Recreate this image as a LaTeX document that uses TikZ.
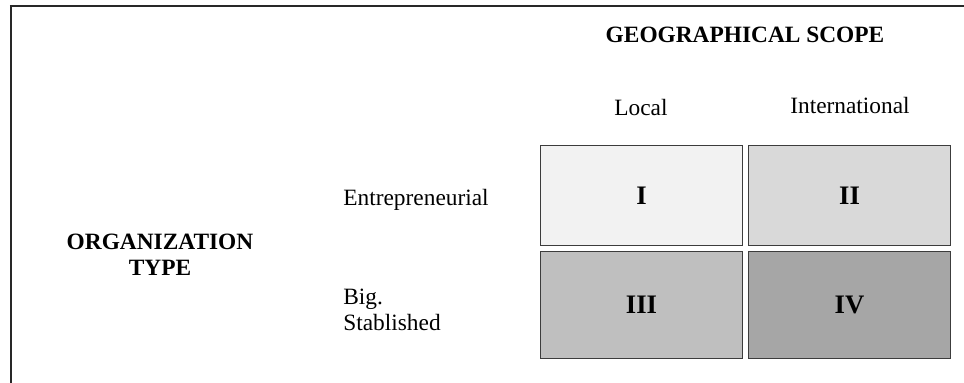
\documentclass[tikz,border=0pt]{standalone}
\usepackage{fontspec}
\setmainfont{Liberation Serif}
\usepackage{tikz}
\usetikzlibrary{positioning}
\definecolor{framegray}{RGB}{40,40,40}
\definecolor{edgegray}{RGB}{60,60,60}
\definecolor{shadeI}{RGB}{242,242,242}
\definecolor{shadeII}{RGB}{217,217,217}
\definecolor{shadeIII}{RGB}{191,191,191}
\definecolor{shadeIV}{RGB}{166,166,166}
\newcommand{\txtsize}{\fontsize{13.3}{14.8}\selectfont}
\newcommand{\numsize}{\fontsize{15.2}{16}\selectfont}
\tikzset{
  quad/.style={rectangle, draw=edgegray, line width=0.9pt,
    minimum width=4.04cm, inner sep=0pt, outer sep=0pt,
    font=\numsize\bfseries},
  toprow/.style={quad, minimum height=2.0cm},
  botrow/.style={quad, minimum height=2.14cm},
  lbl/.style={font=\txtsize, inner sep=0pt},
  axis/.style={font=\txtsize\bfseries, inner sep=0pt, align=center},
  frame/.style={line width=1pt, color=framegray}
}

\begin{document}
\begin{tikzpicture}
  \useasboundingbox (0,0) rectangle (19.28,7.66);

  % Frame lines
  \coordinate (ftop) at (0.2,7.54);
  \coordinate (fcorner) at (0.22,7.54);
  \coordinate (fright) at (19.28,7.54);
  \coordinate (fbottom) at (0.22,0);
  \draw[frame] (ftop) -- (fright);
  \draw[frame] (fcorner) -- (fbottom);

  % Axis titles
  \node[axis] (scope) at (14.9,6.96) {GEOGRAPHICAL SCOPE};
  \node[axis, text depth=0pt] (orgtype) at (3.2,2.56) {ORGANIZATION\\TYPE};

  % Column labels
  \node[lbl] (local) at (12.82,5.5) {Local};
  \node[lbl] (intl) at (17.0,5.54) {International};

  % Row labels
  \node[lbl, anchor=west] (entre) at (6.86,3.66) {Entrepreneurial};
  \node[lbl, anchor=west, align=left] (big) at (6.86,1.47) {Big.\\Stablished};

  % Quadrants
  \node[toprow, fill=shadeI] (q1) at (12.83,3.75) {I};
  \node[toprow, fill=shadeII] (q2) at (16.99,3.75) {II};
  \node[botrow, fill=shadeIII] (q3) at (12.83,1.56) {III};
  \node[botrow, fill=shadeIV] (q4) at (16.99,1.56) {IV};
\end{tikzpicture}
\end{document}
